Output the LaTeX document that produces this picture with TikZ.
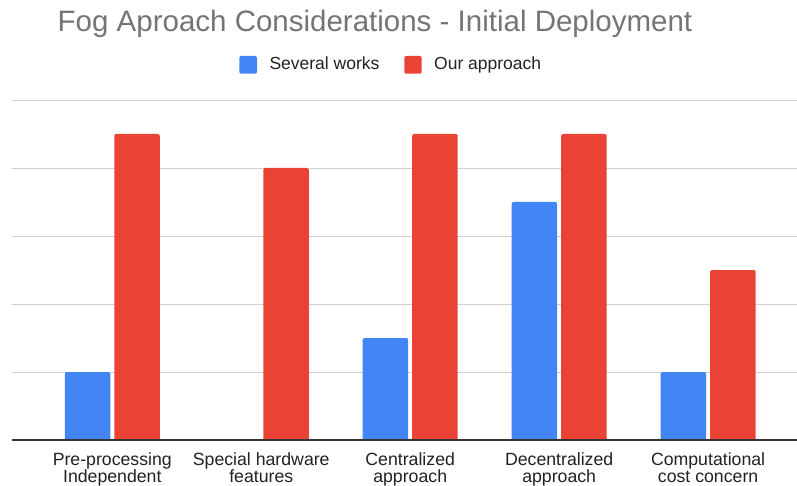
\documentclass[tikz,border=0pt]{standalone}
\usepackage{fontspec}
\setmainfont{Liberation Sans}
\definecolor{bblue}{HTML}{4285F4}
\definecolor{bred}{HTML}{EA4335}
\definecolor{titlegray}{HTML}{757575}
\definecolor{txt}{HTML}{222222}
\definecolor{grid}{HTML}{D0D0D0}
\definecolor{axis}{HTML}{333333}
\tikzset{
  gridline/.style={draw=grid, line width=1.2pt},
  axisline/.style={draw=axis, line width=1.3pt},
  catlabel/.style={anchor=north, align=center, inner sep=0pt, text=txt,
    font={\fontsize{17.7}{16.7}\selectfont}},
  legtext/.style={anchor=base west, inner sep=0pt, text=txt,
    font={\fontsize{17.5}{20}\selectfont}},
  legbox/.style={rounded corners=2pt},
}
\newcommand{\chartbar}[4]{% x1, x2, top, colour
  \fill[#4] (#1,440) {[rounded corners=2pt] -- (#1,#3) -- (#2,#3)} -- (#2,440) -- cycle;}
\begin{document}
\begin{tikzpicture}[x=1pt,y=-1pt]
\useasboundingbox[fill=white] (0,0) rectangle (797,486);
% title
\node[anchor=base west, inner sep=0pt, text=titlegray,
  font={\fontsize{29.5}{34}\selectfont}] (title) at (57.5,31.7)
  {Fog Aproach Considerations - Initial Deployment};
% legend
\fill[bblue, legbox] (239.3,56) rectangle (257,73.7);
\node[legtext] (leg1) at (269.3,70) {Several works};
\fill[bred, legbox] (404.3,56) rectangle (421.7,73.7);
\node[legtext] (leg2) at (434,70) {Our approach};
% grid
\foreach \y in {100.5,168.5,236.5,304.5,372.5}
  \draw[gridline] (12,\y) -- (797,\y);
% bars
\foreach \i/\b/\r in {0/372/134, 1/440/168, 2/338/134, 3/202/134, 4/372/270}{
  \pgfmathsetmacro{\c}{112.3+148.95*\i}
  \pgfmathsetmacro{\ba}{\c-47.5}
  \pgfmathsetmacro{\bb}{\c-2}
  \pgfmathsetmacro{\ra}{\c+2}
  \pgfmathsetmacro{\rb}{\c+47.5}
  \ifdim\b pt<440pt \chartbar{\ba}{\bb}{\b}{bblue}\fi
  \chartbar{\ra}{\rb}{\r}{bred}
}
% axis
\draw[axisline] (12,440) -- (797,440);
% category labels
\node[catlabel] (c1) at (112.3,452.3) {Pre-processing\\Independent};
\node[catlabel] (c2) at (261.25,452.3) {Special hardware\\features};
\node[catlabel] (c3) at (410.2,452.3) {Centralized\\approach};
\node[catlabel] (c4) at (559.15,452.3) {Decentralized\\approach};
\node[catlabel] (c5) at (708.1,452.3) {Computational\\cost concern};
\end{tikzpicture}
\end{document}
